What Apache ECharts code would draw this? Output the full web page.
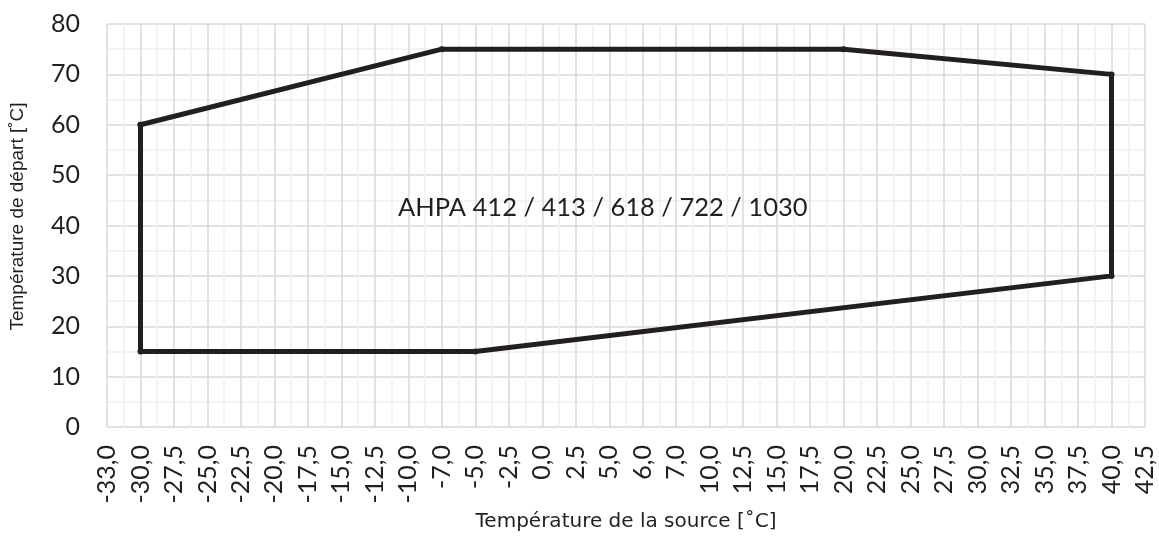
<!DOCTYPE html>
<html>
<head>
<meta charset="utf-8">
<script src="https://cdn.jsdelivr.net/npm/echarts@6/dist/echarts.min.js"></script>
<style>
  html, body { margin: 0; padding: 0; background: #fff; }
  #chart { width: 1159px; height: 538px; }
</style>
</head>
<body>
<div id="chart"></div>
<script>
  // catégories de l'axe x (température de la source)
  const sourceTemps = ['-33,0', '-30,0', '-27,5', '-25,0', '-22,5', '-20,0', '-17,5', '-15,0',
    '-12,5', '-10,0', '-7,0', '-5,0', '-2,5', '0,0', '2,5', '5,0', '6,0', '7,0', '10,0',
    '12,5', '15,0', '17,5', '20,0', '22,5', '25,0', '27,5', '30,0', '32,5', '35,0', '37,5',
    '40,0', '42,5'];

  // contour de la plage de fonctionnement
  const envelopeX = ['-30,0', '-7,0', '20,0', '40,0', '40,0', '-5,0', '-30,0', '-30,0'];
  const envelopeY = [60, 75, 75, 70, 30, 15, 15, 60];

  const areaLabel = 'AHPA 412 / 413 / 618 / 722 / 1030';

  let chartDiv = document.getElementById('chart');
  let myChart = echarts.init(chartDiv, null, { renderer: 'canvas' });

  let option = {
    animation: false,
    grid: {
      left: 107,
      right: 14,
      top: 24,
      bottom: 111
    },
    xAxis: [
      {
        type: 'category',
        data: sourceTemps,
        boundaryGap: false,
        name: 'Température de la source [˚C]',
        nameLocation: 'middle',
        nameGap: 78,
        nameTextStyle: { fontFamily: 'DejaVu Sans', fontSize: 20, color: '#231f20' },
        axisLine: { show: false },
        axisTick: { show: false },
        axisLabel: {
          rotate: 90,
          interval: 0,
          margin: 18,
          fontFamily: 'Lato',
          fontSize: 25,
          color: '#231f20'
        },
        splitLine: { show: true, lineStyle: { color: '#d9d9d9', width: 1.5 } },
        z: 3
      },
      {
        // grille secondaire (demi-intervalles)
        type: 'value',
        min: 0,
        max: sourceTemps.length - 1,
        interval: 1,
        position: 'bottom',
        axisLine: { show: false },
        axisTick: { show: false },
        axisLabel: { show: false },
        splitLine: { show: false },
        minorTick: { show: false, splitNumber: 2 },
        minorSplitLine: { show: true, lineStyle: { color: '#efefef', width: 1.5 } },
        z: 1
      }
    ],
    yAxis: {
      type: 'value',
      min: 0,
      max: 80,
      interval: 10,
      name: 'Température de départ [˚C]',
      nameLocation: 'middle',
      nameGap: 80,
      nameTextStyle: { fontFamily: 'Liberation Sans', fontSize: 19, color: '#231f20', padding: [0, 0, 0, 18] },
      axisLine: { show: false },
      axisTick: { show: false },
      axisLabel: {
        margin: 27,
        fontFamily: 'Lato',
        fontSize: 25,
        color: '#231f20'
      },
      splitLine: { show: true, lineStyle: { color: '#d9d9d9', width: 1.5 } },
      minorTick: { show: false, splitNumber: 2 },
      minorSplitLine: { show: true, lineStyle: { color: '#efefef', width: 1.5 } }
    },
    series: [
      {
        name: 'plage',
        type: 'line',
        xAxisIndex: 0,
        data: envelopeX.map((x, i) => [x, envelopeY[i]]),
        symbol: 'circle',
        symbolSize: 6,
        itemStyle: { color: '#231f20' },
        lineStyle: { color: '#231f20', width: 5, join: 'round', cap: 'round' },
        z: 5
      }
    ],
    graphic: [
      {
        type: 'text',
        x: 398,
        y: 208,
        style: {
          text: areaLabel,
          fontFamily: 'Lato',
          fontSize: 25.5,
          fill: '#231f20',
          align: 'left',
          verticalAlign: 'middle'
        },
        z: 10
      }
    ]
  };

  if (option && typeof option === 'object') {
    myChart.setOption(option);
  }
</script>
</body>
</html>
